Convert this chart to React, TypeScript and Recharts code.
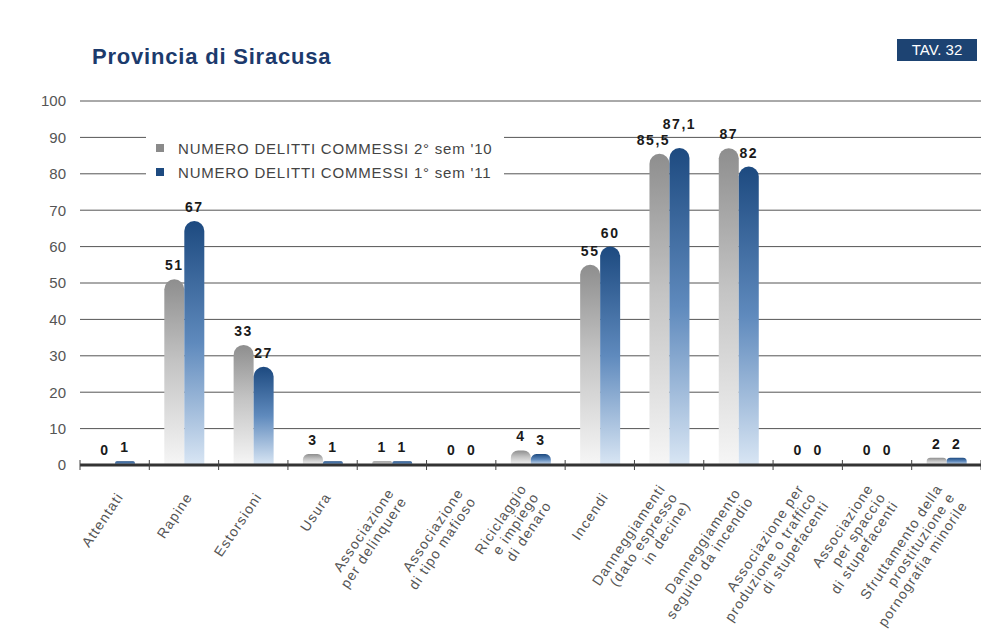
import React from "react";
import { BarChart, Bar, XAxis, YAxis, CartesianGrid, LabelList } from "recharts";

const categories = [
  "Attentati",
  "Rapine",
  "Estorsioni",
  "Usura",
  "Associazione\nper delinquere",
  "Associazione\ndi tipo mafioso",
  "Riciclaggio\ne impiego\ndi denaro",
  "Incendi",
  "Danneggiamenti\n(dato espresso\nin decine)",
  "Danneggiamento\nseguito da incendio",
  "Associazione per\nproduzione o traffico\ndi stupefacenti",
  "Associazione\nper spaccio\ndi stupefacenti",
  "Sfruttamento della\nprostituzione e\npornografia minorile",
];
const sem2_10 = [0, 51, 33, 3, 1, 0, 4, 55, 85.5, 87, 0, 0, 2];
const sem1_11 = [1, 67, 27, 1, 1, 0, 3, 60, 87.1, 82, 0, 0, 2];
const yTicks = [0, 10, 20, 30, 40, 50, 60, 70, 80, 90, 100];

const seriesNames = ["NUMERO DELITTI COMMESSI 2° sem '10", "NUMERO DELITTI COMMESSI 1° sem '11"];

const data = categories.map((c, i) => ({ name: c, a: sem2_10[i], b: sem1_11[i] }));

const W = 981;
const H = 637;
const LEFT = 80;
const BAND = (W - LEFT) / categories.length;
const FONT = "'Liberation Sans', Arial, sans-serif";

const fmt = (v: any) => String(v).replace(".", ",");

const XTick = (props: any) => {
  const { x, y, payload, index } = props;
  const lines = String(payload.value).split("\n");
  const lh = 15;
  return (
    <g>
      <line x1={x - BAND / 2} x2={x - BAND / 2} y1={y - 5} y2={y + 5} stroke="#444" strokeWidth={1} />
      {index === categories.length - 1 && (
        <line x1={x + BAND / 2} x2={x + BAND / 2} y1={y - 5} y2={y + 5} stroke="#444" strokeWidth={1} />
      )}
      <g transform={`translate(${x + 5},${y + 29}) rotate(-56)`}>
        <text textAnchor="end" fontSize={14} fill="#555" fontFamily={FONT} letterSpacing={1.2}>
          {lines.map((l, i) => (
            <tspan key={i} x={0} dy={i === 0 ? -((lines.length - 1) * lh) / 2 + 5 : lh}>
              {l}
            </tspan>
          ))}
        </text>
      </g>
    </g>
  );
};

// value label; long gray labels lean left, and a blue label that would collide is lifted
const ValueLabel = (series: "a" | "b") => (props: any) => {
  const { x, y, width, value, index } = props;
  const txt = fmt(value);
  let dx = 0;
  let lift = 0;
  if (series === "a" && txt.length > 2) dx = -6;
  if (series === "b" && txt.length > 2) {
    const other = fmt(sem2_10[index]);
    if (other.length > 2 && Math.abs(sem2_10[index] - value) < 5) lift = 10;
  }
  return (
    <text
      x={x + width / 2 + dx}
      y={y - 9 - lift}
      textAnchor="middle"
      fill="#1a1a1a"
      fontSize={14}
      fontWeight="bold"
      fontFamily={FONT}
      letterSpacing={1.5}
    >
      {txt}
    </text>
  );
};

export default function App() {
  return (
    <div style={{ position: "absolute", left: 0, top: 0, width: W, height: H, background: "#fff" }}>
      <BarChart
        width={W}
        height={H}
        data={data}
        margin={{ top: 101, right: 0, left: 0, bottom: 0 }}
        barSize={20}
        barGap={0}
      >
        <defs>
          <linearGradient id="gGray" x1="0" y1="0" x2="0" y2="1">
            <stop offset="0%" stopColor="#8e8e8e" />
            <stop offset="45%" stopColor="#c4c4c4" />
            <stop offset="100%" stopColor="#f6f6f6" />
          </linearGradient>
          <linearGradient id="gBlue" x1="0" y1="0" x2="0" y2="1">
            <stop offset="0%" stopColor="#1d4a80" />
            <stop offset="50%" stopColor="#5f8abd" />
            <stop offset="100%" stopColor="#d9e6f4" />
          </linearGradient>
        </defs>
        <CartesianGrid vertical={false} stroke="#555" strokeWidth={1} />
        <YAxis
          width={LEFT}
          domain={[0, 100]}
          ticks={yTicks}
          axisLine={false}
          tickLine={false}
          tickSize={0}
          tickMargin={14}
          tick={{ fill: "#555", fontSize: 15, fontFamily: FONT }}
        />
        <XAxis
          dataKey="name"
          height={H - 465}
          interval={0}
          axisLine={{ stroke: "#333", strokeWidth: 3 }}
          tickLine={false}
          tickSize={0}
          tickMargin={0}
          tick={<XTick />}
        />
        <Bar
          dataKey="a"
          name={seriesNames[0]}
          fill="url(#gGray)"
          radius={[10, 10, 0, 0]}
          minPointSize={1}
          isAnimationActive={false}
        >
          <LabelList dataKey="a" content={ValueLabel("a")} />
        </Bar>
        <Bar
          dataKey="b"
          name={seriesNames[1]}
          fill="url(#gBlue)"
          radius={[10, 10, 0, 0]}
          minPointSize={1}
          isAnimationActive={false}
        >
          <LabelList dataKey="b" content={ValueLabel("b")} />
        </Bar>
      </BarChart>
      <div
        style={{
          position: "absolute",
          left: 92,
          top: 44,
          fontFamily: FONT,
          fontWeight: "bold",
          fontSize: 22,
          letterSpacing: 0.8,
          color: "#1c3a6c",
        }}
      >
        Provincia di Siracusa
      </div>
      <div
        style={{
          position: "absolute",
          left: 897,
          top: 39,
          width: 80,
          height: 22,
          background: "#1d4372",
          color: "#fff",
          fontFamily: FONT,
          fontSize: 15,
          lineHeight: "22px",
          textAlign: "center",
        }}
      >
        TAV. 32
      </div>
      <div
        style={{
          position: "absolute",
          left: 146,
          top: 132,
          background: "#fff",
          padding: "4px 12px 4px 10px",
          fontFamily: FONT,
          fontSize: 15,
          letterSpacing: 0.8,
          color: "#444",
        }}
      >
        {seriesNames.map((n, i) => (
          <div key={n} style={{ display: "flex", alignItems: "center", height: 24 }}>
            <span
              style={{
                display: "inline-block",
                width: 8,
                height: 8,
                background: i === 0 ? "#8a8a8a" : "#1d4a80",
                marginRight: 14,
              }}
            />
            {n}
          </div>
        ))}
      </div>
    </div>
  );
}
